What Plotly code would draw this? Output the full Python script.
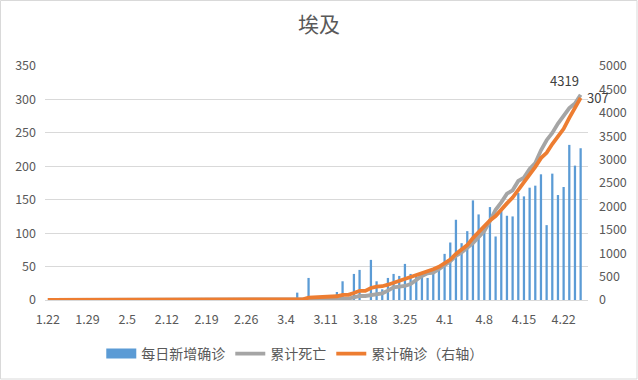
import plotly.graph_objects as go
import pandas as pd

# Dates 2020-01-22 .. 2020-04-25 as "M.D" labels
dates = pd.date_range("2020-01-22", "2020-04-25")
labels = [f"{d.month}.{d.day}" for d in dates]

# 每日新增确诊 (left axis)
daily_new = (
    [0] * 23 + [1] + [0] * 15 +
    # March 1..31
    [1, 0, 0, 0, 1, 11, 0, 33, 6, 4, 1, 7, 12, 28, 1, 39, 45, 0, 60, 28,
     16, 33, 39, 36, 54, 39, 37, 36, 33, 44, 47] +
    # April 1..25
    [69, 86, 120, 85, 103, 149, 128, 102, 139, 95, 133, 126, 125, 160, 155,
     168, 171, 188, 112, 189, 157, 169, 232, 201, 227]
)

# 累计死亡 (left axis)
deaths = (
    [0] * 39 +
    [0, 0, 0, 0, 0, 0, 0, 1, 1, 1, 1, 1, 1, 2, 2, 4, 6, 6, 7, 8,
     10, 14, 19, 20, 21, 24, 30, 36, 40, 41, 46] +
    [52, 58, 66, 71, 78, 85, 94, 103, 118, 135, 146, 159, 164, 178, 183,
     196, 205, 224, 239, 250, 264, 276, 287, 294, 307]
)

# 累计确诊 (right axis)
confirmed = (
    [0] * 23 + [1] * 16 +
    [2, 2, 2, 2, 3, 15, 15, 49, 55, 59, 60, 67, 80, 109, 110, 150, 196, 196,
     256, 285, 294, 327, 366, 402, 456, 495, 536, 576, 609, 656, 710] +
    [779, 865, 985, 1070, 1173, 1322, 1450, 1560, 1699, 1794, 1939, 2065,
     2190, 2350, 2505, 2673, 2844, 3032, 3144, 3333, 3490, 3659, 3891, 4092,
     4319]
)

tick_labels = labels[::7]

BLUE = "#5B9BD5"
GREY = "#A5A5A5"
ORANGE = "#ED7D31"
TXT = "#595959"
FONT = "Noto Sans CJK SC, Liberation Sans, sans-serif"

fig = go.Figure()
fig.add_trace(go.Bar(x=labels, y=daily_new, name="每日新增确诊", showlegend=False,
                     marker=dict(color=BLUE, line=dict(width=0))))
# legend-only swatch for the bar series (wide rectangle like the reference)
fig.add_trace(go.Scatter(x=[None], y=[None], name="每日新增确诊", mode="lines",
                         line=dict(color=BLUE, width=10)))
fig.add_trace(go.Scatter(x=labels, y=deaths, name="累计死亡", mode="lines",
                         line=dict(color=GREY, width=3.8)))
fig.add_trace(go.Scatter(x=labels, y=confirmed, name="累计确诊（右轴）", mode="lines",
                         line=dict(color=ORANGE, width=3.8), yaxis="y2"))

last = len(labels) - 1
fig.add_annotation(x=last, y=confirmed[-1], xref="x", yref="y2", text=str(confirmed[-1]),
                   showarrow=False, yshift=17, xshift=-16,
                   font=dict(size=13, color="#404040", family=FONT))
fig.add_annotation(x=last, y=deaths[-1], xref="x", yref="y", text=str(deaths[-1]),
                   showarrow=False, xshift=17, yshift=-3,
                   font=dict(size=13, color="#404040", family=FONT))

fig.update_layout(
    width=638, height=380,
    margin=dict(l=45, r=50, t=66, b=80, autoexpand=False),
    paper_bgcolor="white", plot_bgcolor="white",
    font=dict(family=FONT, size=12, color=TXT),
    title=dict(text="埃及", x=0.5, xanchor="center", y=1 - 25 / 380, yanchor="middle",
               font=dict(size=21, color=TXT, family=FONT)),
    bargap=0.6,
    showlegend=True,
    legend=dict(orientation="h", x=0.46, xanchor="center", y=-54 / 234, yanchor="middle",
                font=dict(size=14, color=TXT, family=FONT), itemwidth=30,
                traceorder="normal", tracegroupgap=0),
    xaxis=dict(type="category", tickmode="array", tickvals=tick_labels,
               ticktext=tick_labels, tickangle=0, showgrid=False,
               range=[-0.5, 95.3],
               showline=True, linecolor="#D9D9D9", linewidth=1, ticks="",
               ticklabelstandoff=8,
               tickfont=dict(size=12.5, color=TXT)),
    yaxis=dict(range=[0, 350], dtick=50, showgrid=True, gridcolor="#D9D9D9",
               gridwidth=1, zeroline=False, showline=False, ticks="",
               ticklabelstandoff=8,
               tickfont=dict(size=12.5, color=TXT)),
    yaxis2=dict(range=[0, 5000], dtick=500, overlaying="y", side="right",
                showgrid=False, zeroline=False, showline=False, ticks="",
                ticklabelstandoff=10,
                tickfont=dict(size=12.5, color=TXT)),
)
# border around whole chart
fig.add_shape(type="rect", xref="paper", yref="paper",
              x0=-44.5 / 543, x1=1 + 49 / 543, y0=-79 / 234, y1=1 + 65.5 / 234,
              line=dict(color="#D9D9D9", width=1))

fig.write_html("out.html", config={"displayModeBar": False},
               post_script="document.body.style.margin='0';")
